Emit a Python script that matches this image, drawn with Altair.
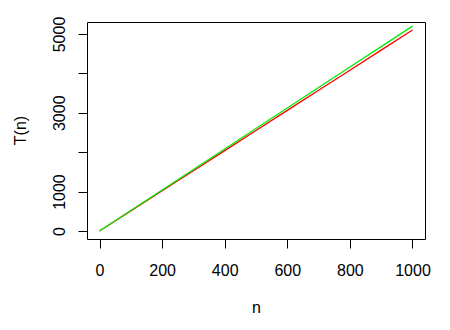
import altair as alt
import pandas as pd

n_values = [0, 100, 200, 300, 400, 500, 600, 700, 800, 900, 1000]
red_T = [0, 510, 1020, 1530, 2040, 2550, 3060, 3570, 4080, 4590, 5100]
green_T = [0, 520, 1040, 1560, 2080, 2600, 3120, 3640, 4160, 4680, 5200]
x_ticks = [0, 200, 400, 600, 800, 1000]
y_ticks = [0, 1000, 2000, 3000, 4000, 5000]

df_red = pd.DataFrame({"n": n_values, "T": red_T})
df_green = pd.DataFrame({"n": n_values, "T": green_T})

FONT = "Liberation Sans"

x_enc = alt.X(
    "n:Q",
    scale=alt.Scale(domain=[-40, 1040], nice=False, zero=False),
    axis=alt.Axis(
        values=x_ticks, format="d", title="n", grid=False, domain=False,
        tickSize=9, tickColor="#000000", tickWidth=1,
        labelFont=FONT, labelFontSize=16, labelColor="#000000",
        labelPadding=14, labelFlush=False, labelOverlap=False,
        titleFont=FONT, titleFontSize=16, titleFontWeight="normal",
        titleColor="#000000", titleY=73, titleBaseline="alphabetic",
    ),
)
y_enc = alt.Y(
    "T:Q",
    scale=alt.Scale(domain=[-204, 5304], nice=False, zero=False),
    axis=alt.Axis(
        values=y_ticks, format="d", title="T(n)", grid=False, domain=False,
        tickSize=9, tickColor="#000000", tickWidth=1,
        labelFont=FONT, labelFontSize=16, labelColor="#000000",
        labelAngle=270, labelAlign="center", labelBaseline="alphabetic",
        labelPadding=14, labelFlush=False, labelOverlap=False,
        labelExpr="datum.value == 0 || datum.value % 2000 == 1000 ? datum.label : ''",
        titleFont=FONT, titleFontSize=16, titleFontWeight="normal",
        titleColor="#000000", titleAngle=270, titleAlign="center",
        titleBaseline="alphabetic", titleX=-62, titleY=108,
    ),
)

red_line = alt.Chart(df_red).mark_line(color="#FF0000", strokeWidth=1.3).encode(x=x_enc, y=y_enc)
green_line = alt.Chart(df_green).mark_line(color="#00EE00", strokeWidth=1.3).encode(x=x_enc, y=y_enc)

chart = (
    alt.layer(red_line, green_line)
    .properties(
        width=338,
        height=217,
        autosize=alt.AutoSizeParams(type="none"),
        padding={"left": 87, "top": 22, "right": 25, "bottom": 91},
        background="white",
    )
    .configure_view(stroke="#000000", strokeWidth=1)
)

chart.save("out.html", embed_options={"renderer": "svg", "actions": False})
